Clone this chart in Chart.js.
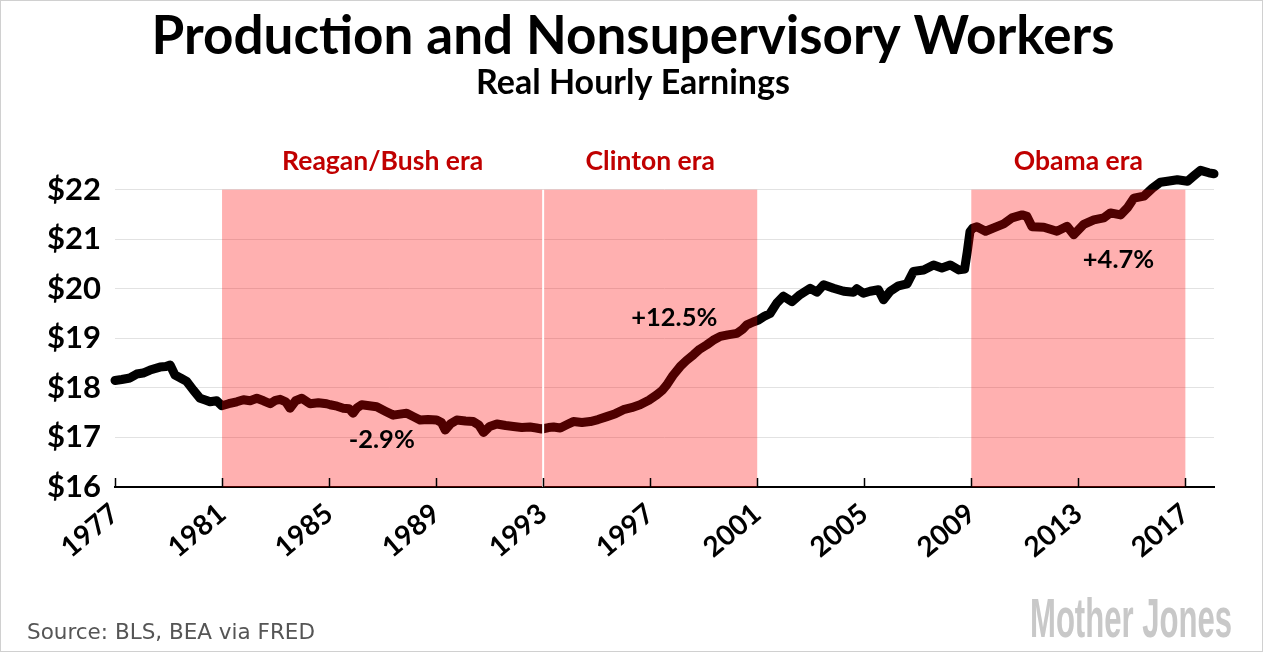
<!DOCTYPE html>
<html>
<head>
<meta charset="utf-8">
<script src="https://cdn.jsdelivr.net/npm/chart.js@4.4.1/dist/chart.umd.min.js"></script>
<style>
  html, body { margin:0; padding:0; background:#fff; }
  #wrap { width:1268px; height:653px; position:relative; }
</style>
</head>
<body>
<div id="wrap"><canvas id="wageChart" width="1268" height="653"></canvas></div>
<script>
// real hourly earnings, production & nonsupervisory workers
const years = [
  1977.00,1977.25,1977.56,1977.81,1978.05,1978.31,1978.68,1978.90,1979.06,1979.24,1979.45,1979.68,1979.92,
  1980.18,1980.40,1980.55,1980.80,1980.99,1981.25,1981.55,1981.80,1982.05,1982.30,1982.55,1982.80,
  1983.00,1983.17,1983.38,1983.54,1983.75,1983.98,1984.29,1984.60,1984.91,1985.04,1985.30,1985.53,
  1985.75,1985.90,1986.05,1986.22,1986.50,1986.78,1987.10,1987.40,1987.65,1987.90,1988.15,1988.40,
  1988.70,1989.02,1989.20,1989.34,1989.55,1989.77,1990.10,1990.39,1990.60,1990.77,1991.00,1991.27,
  1991.60,1991.89,1992.20,1992.51,1992.75,1992.95,1993.20,1993.39,1993.64,1993.90,1994.13,1994.45,
  1994.76,1995.05,1995.38,1995.70,1996.00,1996.30,1996.62,1996.95,1997.25,1997.45,1997.62,1997.85,
  1998.12,1998.35,1998.62,1998.85,1999.12,1999.35,1999.62,1999.90,2000.24,2000.45,2000.61,2000.85,
  2001.05,2001.25,2001.48,2001.73,2001.98,2002.30,2002.60,2002.98,2003.23,2003.48,2003.85,2004.23,
  2004.60,2004.72,2004.97,2005.22,2005.53,2005.72,2005.97,2006.28,2006.60,2006.84,2007.22,2007.59,
  2007.90,2008.21,2008.53,2008.75,2008.85,2008.95,2009.05,2009.21,2009.53,2009.84,2010.21,2010.52,
  2010.90,2011.08,2011.27,2011.71,2012.20,2012.58,2012.83,2013.20,2013.58,2013.95,2014.20,2014.58,
  2014.83,2015.08,2015.45,2015.77,2016.07,2016.33,2016.70,2017.08,2017.32,2017.57,2017.88,2018.07
];
const wages = [
  18.15,18.17,18.20,18.28,18.30,18.36,18.42,18.43,18.46,18.26,18.20,18.13,17.96,
  17.79,17.75,17.72,17.74,17.64,17.68,17.72,17.76,17.74,17.79,17.74,17.68,
  17.75,17.77,17.72,17.59,17.74,17.79,17.68,17.70,17.68,17.66,17.63,17.59,
  17.58,17.49,17.60,17.66,17.64,17.62,17.53,17.45,17.47,17.49,17.42,17.35,
  17.36,17.35,17.30,17.15,17.28,17.35,17.33,17.32,17.25,17.10,17.22,17.27,
  17.24,17.22,17.20,17.21,17.19,17.17,17.20,17.21,17.19,17.26,17.32,17.30,
  17.32,17.36,17.42,17.48,17.56,17.60,17.66,17.75,17.86,17.95,18.06,18.25,
  18.43,18.55,18.67,18.78,18.87,18.96,19.04,19.07,19.10,19.18,19.27,19.33,
  19.37,19.44,19.50,19.71,19.85,19.74,19.88,20.01,19.93,20.08,20.01,19.95,
  19.93,20.00,19.91,19.95,19.98,19.78,19.95,20.06,20.10,20.35,20.38,20.48,
  20.42,20.48,20.38,20.40,20.75,21.15,21.22,21.25,21.16,21.23,21.31,21.43,
  21.49,21.46,21.25,21.24,21.16,21.26,21.09,21.30,21.39,21.43,21.53,21.49,
  21.63,21.83,21.87,22.03,22.15,22.17,22.20,22.17,22.28,22.39,22.34,22.32
];
const xTicks = [1977,1981,1985,1989,1993,1997,2001,2005,2009,2013,2017];
const yTicks = [16,17,18,19,20,21,22];

// shaded presidencies
const eraStart  = [1981, 1993, 2009];
const eraEnd    = [1993, 2001, 2017];
const eraLabels = ['Reagan/Bush era', 'Clinton era', 'Obama era'];
const eraTop    = 22;
// change labels placed at [year, value]
const changeLabels = ['-2.9%', '+12.5%', '+4.7%'];
const changeX = [1986.97, 1997.9, 2014.5];
const changeY = [16.96, 19.41, 20.58];

const BOLD = '"Lato", "Open Sans", sans-serif';

const erasPlugin = {
  id: 'eras',
  afterDatasetsDraw(chart) {
    const {ctx, chartArea, scales:{x, y}} = chart;
    ctx.save();
    ctx.fillStyle = 'rgba(255,0,0,0.31)';
    const top = y.getPixelForValue(eraTop);
    eraStart.forEach((s, i) => {
      const x0 = x.getPixelForValue(s), x1 = x.getPixelForValue(eraEnd[i]);
      ctx.fillRect(x0, top, x1 - x0, chartArea.bottom - top);
    });
    // thin white divider where two eras touch
    ctx.strokeStyle = '#fff';
    ctx.lineWidth = 2;
    eraStart.forEach(s => {
      if (eraEnd.indexOf(s) >= 0) {
        const px = x.getPixelForValue(s);
        ctx.beginPath(); ctx.moveTo(px, top); ctx.lineTo(px, chartArea.bottom); ctx.stroke();
      }
    });
    // era titles
    ctx.fillStyle = '#c00000';
    ctx.font = 'bold 26.5px ' + BOLD;
    ctx.textAlign = 'center';
    ctx.textBaseline = 'middle';
    eraStart.forEach((s, i) => {
      const cx = (x.getPixelForValue(s) + x.getPixelForValue(eraEnd[i])) / 2;
      ctx.fillText(eraLabels[i], cx, top - 28);
    });
    // percent changes
    ctx.fillStyle = '#000';
    ctx.font = 'bold 25.5px ' + BOLD;
    changeLabels.forEach((t, i) => {
      ctx.fillText(t, x.getPixelForValue(changeX[i]), y.getPixelForValue(changeY[i]));
    });
    // tick marks pointing up into the plot
    ctx.strokeStyle = '#000';
    ctx.lineWidth = 1.5;
    xTicks.forEach(v => {
      const px = Math.round(x.getPixelForValue(v)) + 0.5;
      ctx.beginPath(); ctx.moveTo(px, chartArea.bottom - 9); ctx.lineTo(px, chartArea.bottom); ctx.stroke();
    });
    ctx.restore();
  },
  afterDraw(chart) {
    const ctx = chart.ctx;
    ctx.save();
    ctx.fillStyle = '#000';
    ctx.textAlign = 'center';
    ctx.textBaseline = 'middle';
    ctx.font = 'bold 53px ' + BOLD;
    ctx.fillText('Production and Nonsupervisory Workers', 633, 37);
    ctx.font = 'bold 34px ' + BOLD;
    ctx.fillText('Real Hourly Earnings', 633, 83);
    // source
    ctx.textAlign = 'left';
    ctx.textBaseline = 'alphabetic';
    ctx.fillStyle = '#555';
    ctx.font = '21.5px "DejaVu Sans", sans-serif';
    ctx.fillText('Source: BLS, BEA via FRED', 27, 639);
    // logo
    ctx.fillStyle = '#c8c8c8';
    ctx.font = 'bold 55px "Liberation Sans", Arial, sans-serif';
    const w = ctx.measureText('Mother Jones').width;
    ctx.translate(1030, 637);
    ctx.scale(202 / w, 1);
    ctx.fillText('Mother Jones', 0, 0);
    ctx.restore();
    // frame
    ctx.save();
    ctx.strokeStyle = '#d0d0d0';
    ctx.lineWidth = 1;
    ctx.strokeRect(0.5, 0.5, 1262, 651);
    ctx.restore();
  }
};

const bgPlugin = {
  id: 'bg',
  beforeDraw(chart) {
    const ctx = chart.ctx;
    ctx.save();
    ctx.fillStyle = '#fff';
    ctx.fillRect(0, 0, chart.width, chart.height);
    ctx.restore();
  }
};

new Chart(document.getElementById('wageChart'), {
  type: 'line',
  data: {
    datasets: [{
      data: years.map((yr, i) => ({x: yr, y: wages[i]})),
      borderColor: '#000',
      borderWidth: 9,
      borderJoinStyle: 'round',
      borderCapStyle: 'round',
      pointRadius: 0,
      tension: 0,
      clip: false
    }]
  },
  options: {
    responsive: false,
    animation: false,
    devicePixelRatio: 1,
    layout: { padding: { top: 150, right: 54, left: 0, bottom: 0 } },
    plugins: { legend: { display: false }, tooltip: { enabled: false } },
    scales: {
      x: {
        type: 'linear',
        min: 1977,
        max: 2018.07,
        afterBuildTicks: s => { s.ticks = xTicks.map(v => ({value: v})); },
        afterFit: s => { s.height = 166; },
        grid: { display: false, drawTicks: false },
        border: { display: true, color: '#000', width: 2 },
        ticks: {
          autoSkip: false,
          minRotation: 40,
          maxRotation: 40,
          padding: 10,
          color: '#000',
          font: { family: BOLD, weight: 'bold', size: 28 },
          callback: v => String(v)
        }
      },
      y: {
        min: 16,
        max: 22.8,
        afterBuildTicks: s => { s.ticks = yTicks.map(v => ({value: v})); },
        afterFit: s => { s.width = 115; },
        grid: { color: '#e2e2e2', lineWidth: 1, drawTicks: false },
        border: { display: false },
        ticks: {
          padding: 14,
          color: '#000',
          font: { family: BOLD, weight: 'bold', size: 31 },
          callback: v => '$' + v
        }
      }
    }
  },
  plugins: [bgPlugin, erasPlugin]
});
</script>
</body>
</html>
